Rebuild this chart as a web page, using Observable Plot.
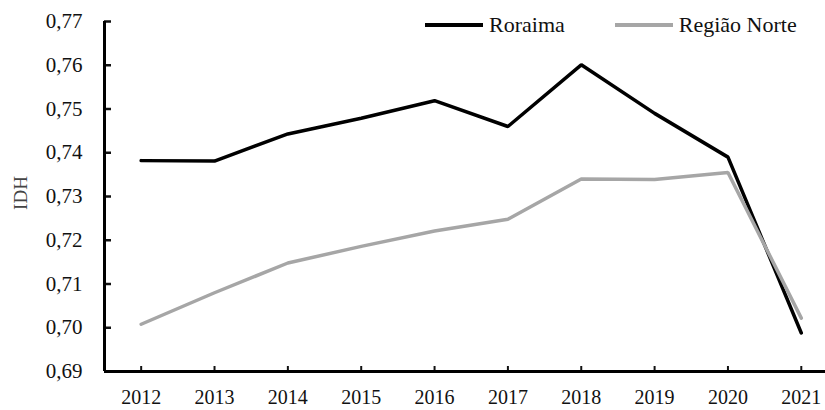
<!DOCTYPE html>
<html>
<head>
<meta charset="utf-8">
<script src="https://cdn.jsdelivr.net/npm/d3@7"></script>
<script src="https://cdn.jsdelivr.net/npm/@observablehq/plot@0.6"></script>
<style>
  html, body { margin: 0; padding: 0; background: #fff; }
  #wrap { position: relative; width: 825px; height: 410px; font-family: "Liberation Serif", "Times New Roman", serif; }
  #legend { position: absolute; top: 7px; left: 425px; font-size: 22px; color: #111; white-space: nowrap; }
  #legend span.item { display: inline-flex; align-items: center; }
  #legend span.sw { display: inline-block; width: 58px; height: 4px; margin-right: 6px; }
</style>
</head>
<body>
<div id="wrap"><div id="legend"></div></div>
<script>
const years = [2012, 2013, 2014, 2015, 2016, 2017, 2018, 2019, 2020, 2021];
const roraima = [0.7382, 0.7381, 0.7443, 0.7479, 0.7519, 0.7460, 0.7601, 0.7490, 0.7390, 0.6988];
const regiaoNorte = [0.7008, 0.7080, 0.7148, 0.7186, 0.7221, 0.7248, 0.7340, 0.7339, 0.7355, 0.7022];
const seriesNames = ["Roraima", "Região Norte"];
const seriesColors = ["#000000", "#a6a6a6"];
const yTicks = [0.69, 0.70, 0.71, 0.72, 0.73, 0.74, 0.75, 0.76, 0.77];
const yLabel = "IDH";

const data = [];
years.forEach((yr, i) => {
  data.push({year: yr, value: roraima[i], series: seriesNames[0]});
  data.push({year: yr, value: regiaoNorte[i], series: seriesNames[1]});
});

const xDomain = [2011.5, 2021.33];
const yDomain = [0.69, 0.77];

const chart = Plot.plot({
  width: 825,
  height: 410,
  marginLeft: 104,
  marginRight: 0,
  marginTop: 21,
  marginBottom: 39,
  style: {fontFamily: "'Liberation Serif', 'Times New Roman', serif", background: "#fff", color: "#111"},
  x: {domain: xDomain},
  y: {domain: yDomain},
  color: {domain: seriesNames, range: seriesColors},
  marks: [
    Plot.axisY({ticks: yTicks, tickSize: -7, tickPadding: 29, strokeWidth: 2.5, fontSize: 21,
      tickFormat: d => d.toFixed(2).replace(".", ","), label: null}),
    Plot.axisX({ticks: years, tickSize: -5, tickPadding: 23, strokeWidth: 2, fontSize: 20,
      tickFormat: d => String(d), label: null}),
    Plot.ruleX([xDomain[0]], {stroke: "#000", strokeWidth: 3}),
    Plot.ruleY([yDomain[0]], {stroke: "#000", strokeWidth: 3}),
    Plot.line(data, {x: "year", y: "value", z: "series", stroke: "series", strokeWidth: 3.5, strokeLinejoin: "miter"})
  ]
});
const wrap = document.getElementById("wrap");
wrap.appendChild(chart);

// y axis label
const svg = d3.select(chart);
svg.append("text")
  .attr("transform", "translate(27,193) rotate(-90)")
  .attr("text-anchor", "middle")
  .attr("font-size", 19)
  .attr("fill", "#444")
  .attr("font-family", "'Liberation Serif', 'Times New Roman', serif")
  .text(yLabel);

// legend
const legend = document.getElementById("legend");
seriesNames.forEach((name, i) => {
  const item = document.createElement("span");
  item.className = "item";
  if (i > 0) item.style.marginLeft = "50px";
  const sw = document.createElement("span");
  sw.className = "sw";
  sw.style.background = seriesColors[i];
  item.appendChild(sw);
  item.appendChild(document.createTextNode(name));
  legend.appendChild(item);
});
</script>
</body>
</html>
